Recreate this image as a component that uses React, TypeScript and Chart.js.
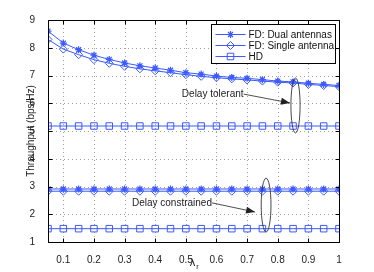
import React, { useEffect, useRef } from "react";
import { Chart, registerables } from "chart.js";

Chart.register(...registerables);

const lambdaR = [0.05, 0.1, 0.15, 0.2, 0.25, 0.3, 0.35, 0.4, 0.45, 0.5, 0.55, 0.6, 0.65, 0.7, 0.75, 0.8, 0.85, 0.9, 0.95, 1.0];

const fdDualTolerant = [8.6, 8.17, 7.93, 7.73, 7.58, 7.45, 7.35, 7.27, 7.19, 7.1, 7.05, 6.98, 6.93, 6.9, 6.85, 6.8, 6.77, 6.72, 6.68, 6.64];
const fdSingleTolerant = [8.3, 7.95, 7.75, 7.57, 7.44, 7.33, 7.24, 7.17, 7.1, 7.03, 6.97, 6.92, 6.88, 6.84, 6.8, 6.76, 6.73, 6.68, 6.64, 6.6];
const hdTolerant = [5.18, 5.18, 5.18, 5.18, 5.18, 5.18, 5.18, 5.18, 5.18, 5.18, 5.18, 5.18, 5.18, 5.18, 5.18, 5.18, 5.18, 5.18, 5.18, 5.18];
const fdDualConstrained = [2.91, 2.91, 2.91, 2.91, 2.91, 2.91, 2.91, 2.91, 2.91, 2.91, 2.91, 2.91, 2.91, 2.91, 2.91, 2.91, 2.91, 2.91, 2.91, 2.91];
const fdSingleConstrained = [2.83, 2.83, 2.83, 2.83, 2.83, 2.83, 2.83, 2.83, 2.83, 2.83, 2.83, 2.83, 2.83, 2.83, 2.83, 2.83, 2.83, 2.83, 2.83, 2.83];
const hdConstrained = [1.48, 1.48, 1.48, 1.48, 1.48, 1.48, 1.48, 1.48, 1.48, 1.48, 1.48, 1.48, 1.48, 1.48, 1.48, 1.48, 1.48, 1.48, 1.48, 1.48];

const xTicks = [0.1, 0.2, 0.3, 0.4, 0.5, 0.6, 0.7, 0.8, 0.9, 1];
const yTicks = [1, 2, 3, 4, 5, 6, 7, 8, 9];

const legendLabels = ["FD: Dual antennas", "FD: Single antenna", "HD"];
const yTitle = "Throughput (bps/Hz)";
const xTitleMain = "λ";
const xTitleSub = "r";

// annotations (data coordinates)
const tolerantText = { label: "Delay tolerant", x: 0.487, y: 6.33 };
const tolerantArrowEnd = { x: 0.84, y: 6.01 };
const tolerantEllipse = { x: 0.858, y: 5.92, rx: 0.015, ry: 0.99 };
const constrainedText = { label: "Delay constrained", x: 0.324, y: 2.41 };
const constrainedArrowEnd = { x: 0.726, y: 2.08 };
const constrainedEllipse = { x: 0.762, y: 2.33, rx: 0.016, ry: 0.97 };

const BLUE = "rgb(60,90,255)";
const FONT = "'Liberation Sans', Arial, sans-serif";

const toPts = (ys: number[]) => lambdaR.map((x, i) => ({ x, y: ys[i] }));

const styles: any[] = [
  { pointStyle: "star", pointRadius: 3.5, pointBorderWidth: 1.2 },
  { pointStyle: "rectRot", pointRadius: 4, pointBorderWidth: 1 },
  { pointStyle: "rect", pointRadius: 4.6, pointBorderWidth: 1 },
];

const mk = (ys: number[], s: number) => ({
  data: toPts(ys),
  borderColor: BLUE,
  borderWidth: 1,
  backgroundColor: "rgba(0,0,0,0)",
  pointBackgroundColor: "rgba(0,0,0,0)",
  pointBorderColor: BLUE,
  fill: false,
  tension: 0,
  ...styles[s],
});

function legendMarker(ctx: CanvasRenderingContext2D, kind: string, x: number, y: number) {
  ctx.beginPath();
  if (kind === "star") {
    const r = 3.5;
    ctx.moveTo(x - r, y); ctx.lineTo(x + r, y);
    ctx.moveTo(x, y - r); ctx.lineTo(x, y + r);
    const d = r * Math.SQRT1_2;
    ctx.moveTo(x - d, y - d); ctx.lineTo(x + d, y + d);
    ctx.moveTo(x - d, y + d); ctx.lineTo(x + d, y - d);
  } else if (kind === "rectRot") {
    const r = 4;
    ctx.moveTo(x, y - r); ctx.lineTo(x + r, y); ctx.lineTo(x, y + r); ctx.lineTo(x - r, y); ctx.closePath();
  } else {
    const h = 4.6 * Math.SQRT1_2;
    ctx.rect(x - h, y - h, 2 * h, 2 * h);
  }
  ctx.stroke();
}

const decorPlugin = {
  id: "decor",
  beforeDatasetsDraw(chart: any) {
    const { ctx, chartArea: a, scales } = chart;
    const xs = scales.x, ys = scales.y;
    ctx.save();
    ctx.strokeStyle = "#a0a0a0";
    ctx.lineWidth = 1;
    ctx.setLineDash([1, 3]);
    xTicks.forEach((v) => {
      const px = Math.round(xs.getPixelForValue(v)) + 0.5;
      ctx.beginPath(); ctx.moveTo(px, a.top); ctx.lineTo(px, a.bottom); ctx.stroke();
    });
    yTicks.forEach((v) => {
      const py = Math.round(ys.getPixelForValue(v)) + 0.5;
      ctx.beginPath(); ctx.moveTo(a.left, py); ctx.lineTo(a.right, py); ctx.stroke();
    });
    ctx.setLineDash([]);
    ctx.restore();
  },
  afterDatasetsDraw(chart: any) {
    const { ctx, chartArea: a, scales } = chart;
    const xs = scales.x, ys = scales.y;
    const X = (v: number) => xs.getPixelForValue(v);
    const Y = (v: number) => ys.getPixelForValue(v);
    ctx.save();
    ctx.setLineDash([]);
    ctx.strokeStyle = "#000";
    ctx.lineWidth = 1;
    const L0 = Math.round(a.left) + 0.5, R0 = Math.round(a.right) + 0.5;
    const T0 = Math.round(a.top) + 0.5, B0 = Math.round(a.bottom) + 0.5;
    ctx.beginPath();
    ctx.moveTo(L0, T0); ctx.lineTo(R0, T0); ctx.lineTo(R0, B0); ctx.lineTo(L0, B0); ctx.closePath();
    ctx.stroke();
    const tl = 4;
    xTicks.forEach((v) => {
      const px = Math.round(X(v)) + 0.5;
      ctx.beginPath();
      ctx.moveTo(px, B0); ctx.lineTo(px, B0 - tl);
      ctx.moveTo(px, T0); ctx.lineTo(px, T0 + tl);
      ctx.stroke();
    });
    yTicks.forEach((v) => {
      const py = Math.round(Y(v)) + 0.5;
      ctx.beginPath();
      ctx.moveTo(L0, py); ctx.lineTo(L0 + tl, py);
      ctx.moveTo(R0, py); ctx.lineTo(R0 - tl, py);
      ctx.stroke();
    });

    ctx.font = `10px ${FONT}`;
    ctx.textBaseline = "middle";
    ctx.textAlign = "left";
    const drawAnn = (t: any, end: any, el: any) => {
      const tx = X(t.x), ty = Y(t.y);
      ctx.fillStyle = "#222";
      ctx.fillText(t.label, tx, ty);
      const w = ctx.measureText(t.label).width;
      const sx = tx + w, sy = ty;
      const ex = X(end.x), ey = Y(end.y);
      ctx.strokeStyle = "#222";
      ctx.lineWidth = 0.8;
      ctx.beginPath(); ctx.moveTo(sx, sy); ctx.lineTo(ex, ey); ctx.stroke();
      const ang = Math.atan2(ey - sy, ex - sx);
      const L = 9, W = 3.5;
      ctx.beginPath();
      ctx.moveTo(ex, ey);
      ctx.lineTo(ex - L * Math.cos(ang) + W * Math.sin(ang), ey - L * Math.sin(ang) - W * Math.cos(ang));
      ctx.lineTo(ex - L * Math.cos(ang) - W * Math.sin(ang), ey - L * Math.sin(ang) + W * Math.cos(ang));
      ctx.closePath();
      ctx.fill();
      const cx = X(el.x), cy = Y(el.y);
      const rx = Math.abs(X(el.x + el.rx) - cx), ry = Math.abs(Y(el.y + el.ry) - cy);
      ctx.lineWidth = 0.9;
      ctx.strokeStyle = "#333";
      ctx.beginPath(); ctx.ellipse(cx, cy, rx, ry, 0, 0, Math.PI * 2); ctx.stroke();
    };
    drawAnn(tolerantText, tolerantArrowEnd, tolerantEllipse);
    drawAnn(constrainedText, constrainedArrowEnd, constrainedEllipse);

    // legend
    const lw = 124, lh = 39;
    const lx = Math.round(a.right - 4 - lw) + 0.5, ly = Math.round(a.top + 4) + 0.5;
    ctx.fillStyle = "#fff";
    ctx.fillRect(lx, ly, lw, lh);
    ctx.strokeStyle = "#000";
    ctx.lineWidth = 1;
    ctx.strokeRect(lx, ly, lw, lh);
    ctx.font = `10px ${FONT}`;
    legendLabels.forEach((lab, i) => {
      const ry = Math.round(ly + 9 + i * 11.3) + 0.5;
      ctx.strokeStyle = BLUE;
      ctx.lineWidth = 1;
      ctx.beginPath(); ctx.moveTo(lx + 4, ry); ctx.lineTo(lx + 34, ry); ctx.stroke();
      const s = styles[i];
      ctx.lineWidth = s.pointBorderWidth;
      legendMarker(ctx, s.pointStyle, lx + 19, ry);
      ctx.fillStyle = "#111";
      ctx.textAlign = "left";
      ctx.fillText(lab, lx + 37, ry + 0.5);
    });

    // axis titles
    ctx.fillStyle = "#222";
    ctx.font = `10px ${FONT}`;
    ctx.textAlign = "center";
    ctx.save();
    ctx.translate(a.left - 17, (a.top + a.bottom) / 2);
    ctx.rotate(-Math.PI / 2);
    ctx.fillText(yTitle, 0, 0);
    ctx.restore();
    const cxT = (a.left + a.right) / 2;
    ctx.font = `11px ${FONT}`;
    ctx.fillText(xTitleMain, cxT - 1, a.bottom + 21);
    ctx.font = `7.5px ${FONT}`;
    ctx.fillText(xTitleSub, cxT + 4, a.bottom + 25);
    ctx.restore();
  },
};

export default function App() {
  const ref = useRef<HTMLCanvasElement>(null);
  useEffect(() => {
    document.body.style.margin = "0";
    const canvas = ref.current!;
    const chart = new Chart(canvas, {
      type: "line",
      data: {
        datasets: [
          mk(fdDualTolerant, 0),
          mk(fdSingleTolerant, 1),
          mk(hdTolerant, 2),
          mk(fdDualConstrained, 0),
          mk(fdSingleConstrained, 1),
          mk(hdConstrained, 2),
        ],
      },
      options: {
        animation: false,
        responsive: false,
        devicePixelRatio: 1,
        layout: { padding: { left: 0, top: 20, right: 35, bottom: 0 } },
        plugins: { legend: { display: false }, tooltip: { enabled: false } },
        scales: {
          x: {
            type: "linear",
            min: 0.05,
            max: 1,
            afterBuildTicks: (s: any) => { s.ticks = xTicks.map((v) => ({ value: v })); },
            afterFit: (s: any) => { s.height = 30; },
            grid: { display: false },
            border: { display: false },
            ticks: {
              color: "#222",
              font: { family: FONT, size: 10 },
              padding: 4,
              maxRotation: 0,
              autoSkip: false,
              callback: (v: any) => (v === 1 ? "1" : Number(v).toFixed(1)),
            },
          },
          y: {
            type: "linear",
            min: 1,
            max: 9,
            afterBuildTicks: (s: any) => { s.ticks = yTicks.map((v) => ({ value: v })); },
            afterFit: (s: any) => { s.width = 48; },
            grid: { display: false },
            border: { display: false },
            ticks: {
              color: "#222",
              font: { family: FONT, size: 10 },
              padding: 5,
              autoSkip: false,
              callback: (v: any) => String(v),
            },
          },
        },
      } as any,
      plugins: [decorPlugin],
    });
    return () => chart.destroy();
  }, []);
  return <canvas ref={ref} width={374} height={272} style={{ display: "block" }} />;
}
